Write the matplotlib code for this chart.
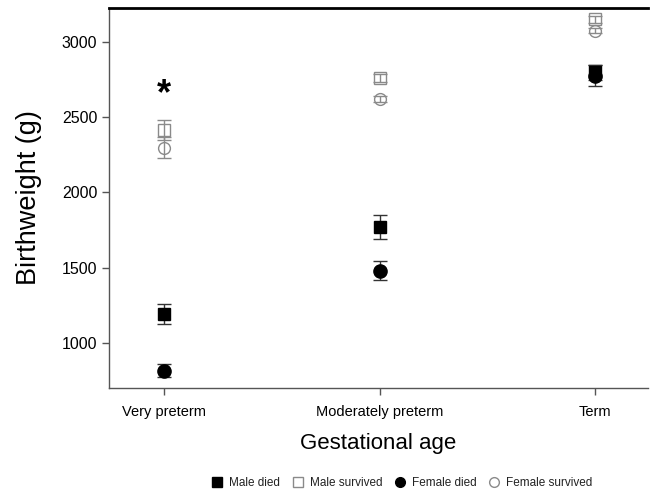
import matplotlib
matplotlib.use("Agg")
import matplotlib.pyplot as plt
from matplotlib.lines import Line2D

categories = ["Very preterm", "Moderately preterm", "Term"]
male_died = [1190, 1770, 2800]
male_died_err = [67, 80, 50]
male_surv = [2415, 2760, 3150]
male_surv_err = [68, 25, 25]
female_died = [815, 1480, 2775]
female_died_err = [45, 65, 70]
female_surv = [2298, 2620, 3075]
female_surv_err = [72, 20, 18]
yticks = [1000, 1500, 2000, 2500, 3000]

plt.rcParams['font.family'] = ['Liberation Sans', 'DejaVu Sans']

fig = plt.figure(figsize=(6.51, 4.91), dpi=100)
ax = fig.add_axes([109/651, 1-388/491, (648-109)/651, (388-8)/491])

x = list(range(len(categories)))
gray = "#8a8a8a"
dark = "#333333"

ax.errorbar(x, male_surv, yerr=male_surv_err, fmt='s', ms=8.5, mfc='none', mec=gray,
            mew=1.0, ecolor=gray, elinewidth=1, capsize=5, capthick=1, zorder=2)
ax.errorbar(x, female_surv, yerr=female_surv_err, fmt='o', ms=8.5, mfc='none', mec=gray,
            mew=1.0, ecolor=gray, elinewidth=1, capsize=5, capthick=1, zorder=2)
ax.errorbar(x, male_died, yerr=male_died_err, fmt='s', ms=9, mfc='black', mec='black',
            ecolor=dark, elinewidth=1, capsize=5, capthick=1, zorder=3)
ax.errorbar(x, female_died, yerr=female_died_err, fmt='o', ms=9.5, mfc='black', mec='black',
            ecolor=dark, elinewidth=1, capsize=5, capthick=1, zorder=3)

ax.text(0, 2650, "*", ha='center', va='center', fontsize=26, fontweight='bold')

ax.set_xlim(-0.255, 2.245)
ax.set_ylim(700, 3226)
ax.set_xticks(x)
ax.set_xticklabels(categories, fontsize=10.5)
ax.set_yticks(yticks)
ax.set_yticklabels([str(v) for v in yticks], fontsize=11.5)
ax.set_xlabel("Gestational age", fontsize=16, labelpad=10)
ax.set_ylabel("Birthweight (g)", fontsize=19.5, labelpad=14)

ax.spines['right'].set_visible(False)
ax.spines['top'].set_color('black')
ax.spines['top'].set_linewidth(2)
for s in ['left', 'bottom']:
    ax.spines[s].set_color('#555555')
    ax.spines[s].set_linewidth(1)
ax.tick_params(axis='both', direction='out', length=5, color='#555555', width=1)
ax.tick_params(axis='x', pad=7)

handles = [
    Line2D([], [], marker='s', ls='none', mfc='black', mec='black', ms=7),
    Line2D([], [], marker='s', ls='none', mfc='white', mec=gray, ms=7),
    Line2D([], [], marker='o', ls='none', mfc='black', mec='black', ms=7),
    Line2D([], [], marker='o', ls='none', mfc='white', mec=gray, ms=7),
]
labels = ["Male died", "Male survived", "Female died", "Female survived"]
leg = fig.legend(handles, labels, loc='lower center', bbox_to_anchor=(0.617, -0.017), ncol=4,
                 frameon=False, fontsize=8.5, handletextpad=0.5, columnspacing=1.0,
                 handlelength=1.0)
for t in leg.get_texts():
    t.set_color('#222222')

fig.savefig("out.png", dpi=100)
